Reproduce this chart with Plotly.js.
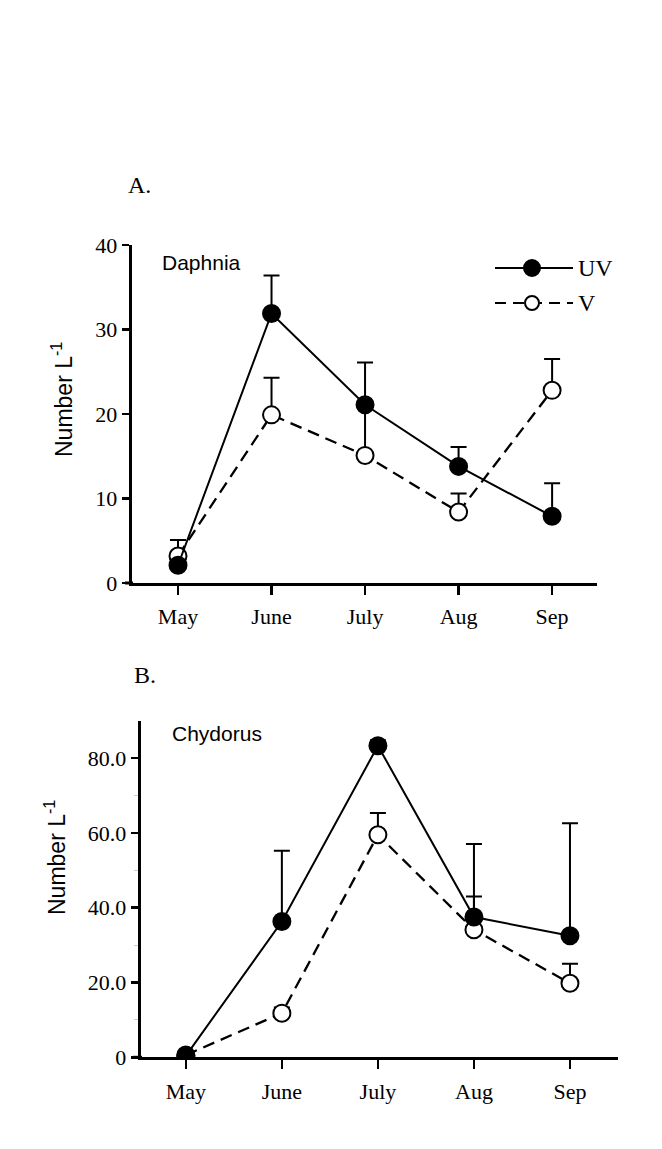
<!DOCTYPE html>
<html><head><meta charset="utf-8">
<script src="https://cdn.plot.ly/plotly-3.0.1.min.js"></script>
<style>html,body{margin:0;padding:0;background:#fff}</style>
</head><body>
<div id="chart" style="width:662px;height:1149px"></div>
<script>
// ---- data ----
const months = ["May", "June", "July", "Aug", "Sep"];
const daphniaUV = [2.1, 31.9, 21.1, 13.8, 7.9];
const daphniaUVerr = [0, 4.5, 5.0, 2.3, 3.9];
const daphniaV = [3.2, 19.9, 15.1, 8.4, 22.8];
const daphniaVerr = [1.9, 4.4, 5.8, 2.2, 3.7];
const chydorusUV = [0.4, 36.3, 83.3, 37.5, 32.5];
const chydorusUVerr = [0, 18.9, 1.5, 19.5, 30.1];
const chydorusV = [0.6, 11.8, 59.5, 34.1, 19.8];
const chydorusVerr = [0, 1.5, 5.8, 8.9, 5.2];
const yTicksA = [0, 10, 20, 30, 40];
const yTickTextA = ["0", "10", "20", "30", "40"];
const yTicksB = [0, 20, 40, 60, 80];
const yTickTextB = ["0", "20.0", "40.0", "60.0", "80.0"];

const W = 662, H = 1149;
const px = x => x / W, py = y => 1 - y / H;
const xIdx = months.map((m, i) => i);
const zeros = months.map(() => 0);

function series(y, err, filled, dashed, xa, ya) {
  return {
    x: xIdx, y: y, type: 'scatter', mode: 'lines+markers',
    xaxis: xa, yaxis: ya, showlegend: false, hoverinfo: 'skip',
    line: {color: '#000', width: dashed ? 2.3 : 2, dash: dashed ? '12px,7px' : 'solid'},
    marker: {symbol: 'circle', size: 17, color: filled ? '#000' : '#fff',
             line: {color: '#000', width: 2}},
    error_y: {type: 'data', symmetric: false, array: err, arrayminus: zeros,
              visible: true, color: '#000', thickness: 2, width: 8}
  };
}

const traces = [
  series(daphniaV, daphniaVerr, false, true, 'x', 'y'),
  series(daphniaUV, daphniaUVerr, true, false, 'x', 'y'),
  series(chydorusV, chydorusVerr, false, true, 'x2', 'y2'),
  series(chydorusUV, chydorusUVerr, true, false, 'x2', 'y2')
];

const serif = 'Liberation Serif, Times New Roman, serif';
const sans = 'Liberation Sans, Arial, sans-serif';

const xBase = {
  tickmode: 'array', tickvals: xIdx, ticktext: months,
  showline: true, linecolor: '#000', linewidth: 3,
  ticks: 'outside', ticklen: 9, tickwidth: 2.5, tickcolor: '#000',
  ticklabelstandoff: 3,
  showgrid: false, zeroline: false, fixedrange: true,
  tickfont: {family: serif, size: 22, color: '#000'}
};
const yBase = {
  tickmode: 'array',
  showline: true, linecolor: '#000', linewidth: 3,
  ticks: 'outside', ticklen: 7, tickwidth: 2.5, tickcolor: '#000',
  showgrid: false, zeroline: false, fixedrange: true,
  tickfont: {family: serif, size: 22, color: '#000'}
};

const layout = {
  width: W, height: H, margin: {l: 0, r: 0, t: 0, b: 0},
  paper_bgcolor: '#fff', plot_bgcolor: 'rgba(0,0,0,0)', showlegend: false,
  xaxis: Object.assign({}, xBase, {domain: [px(131.7), px(597)], range: [-0.495, 4.48], anchor: 'y'}),
  yaxis: Object.assign({}, yBase, {domain: [py(583), py(245)], range: [0, 40],
    tickvals: yTicksA, ticktext: yTickTextA, anchor: 'x'}),
  xaxis2: Object.assign({}, xBase, {domain: [px(140.7), px(618)], range: [-0.47, 4.5], anchor: 'y2'}),
  yaxis2: Object.assign({}, yBase, {domain: [py(1057.3), py(720.7)], range: [0, 90],
    tickvals: yTicksB, ticktext: yTickTextB, anchor: 'x2',
    minor: {tickmode: 'array', tickvals: [10, 30, 50, 70], ticks: 'outside',
            ticklen: 4, tickwidth: 1, tickcolor: '#d0d0d0', showgrid: false}}),
  shapes: [
    {type: 'line', xref: 'paper', yref: 'paper', x0: px(125), x1: px(133), y0: py(583), y1: py(583), line: {color: '#000', width: 3}},
    {type: 'line', xref: 'paper', yref: 'paper', x0: px(133), x1: px(142), y0: py(1057.3), y1: py(1057.3), line: {color: '#000', width: 3}},
    // legend glyphs
    {type: 'line', xref: 'paper', yref: 'paper', x0: px(495), x1: px(573), y0: py(268), y1: py(268), line: {color: '#000', width: 2}},
    {type: 'circle', xref: 'paper', yref: 'paper', x0: px(524), x1: px(540), y0: py(276), y1: py(260), fillcolor: '#000', line: {color: '#000', width: 2}},
    {type: 'line', xref: 'paper', yref: 'paper', x0: px(495), x1: px(573), y0: py(303), y1: py(303), line: {color: '#000', width: 2, dash: '11px,7px'}},
    {type: 'circle', xref: 'paper', yref: 'paper', x0: px(525), x1: px(539), y0: py(310), y1: py(296), fillcolor: '#fff', line: {color: '#000', width: 2}}
  ],
  annotations: [
    {text: 'A.', xref: 'paper', yref: 'paper', x: px(126), y: py(185), xanchor: 'left', yanchor: 'middle', showarrow: false, font: {family: serif, size: 24, color: '#000'}},
    {text: 'B.', xref: 'paper', yref: 'paper', x: px(132), y: py(675), xanchor: 'left', yanchor: 'middle', showarrow: false, font: {family: serif, size: 24, color: '#000'}},
    {text: 'Daphnia', xref: 'paper', yref: 'paper', x: px(160), y: py(263), xanchor: 'left', yanchor: 'middle', showarrow: false, font: {family: sans, size: 21, color: '#000'}},
    {text: 'Chydorus', xref: 'paper', yref: 'paper', x: px(170), y: py(733), xanchor: 'left', yanchor: 'middle', showarrow: false, font: {family: sans, size: 21, color: '#000'}},
    {text: 'UV', xref: 'paper', yref: 'paper', x: px(576), y: py(268), xanchor: 'left', yanchor: 'middle', showarrow: false, font: {family: serif, size: 24, color: '#000'}},
    {text: 'V', xref: 'paper', yref: 'paper', x: px(576), y: py(303), xanchor: 'left', yanchor: 'middle', showarrow: false, font: {family: serif, size: 24, color: '#000'}},
    {text: 'Number L<sup>-1</sup>', xref: 'paper', yref: 'paper', x: px(62), y: py(400), xanchor: 'center', yanchor: 'middle', textangle: -90, showarrow: false, font: {family: sans, size: 23, color: '#000'}},
    {text: 'Number L<sup>-1</sup>', xref: 'paper', yref: 'paper', x: px(55), y: py(858), xanchor: 'center', yanchor: 'middle', textangle: -90, showarrow: false, font: {family: sans, size: 23, color: '#000'}}
  ]
};

Plotly.newPlot('chart', traces, layout, {staticPlot: true, displayModeBar: false});
</script>
</body></html>
